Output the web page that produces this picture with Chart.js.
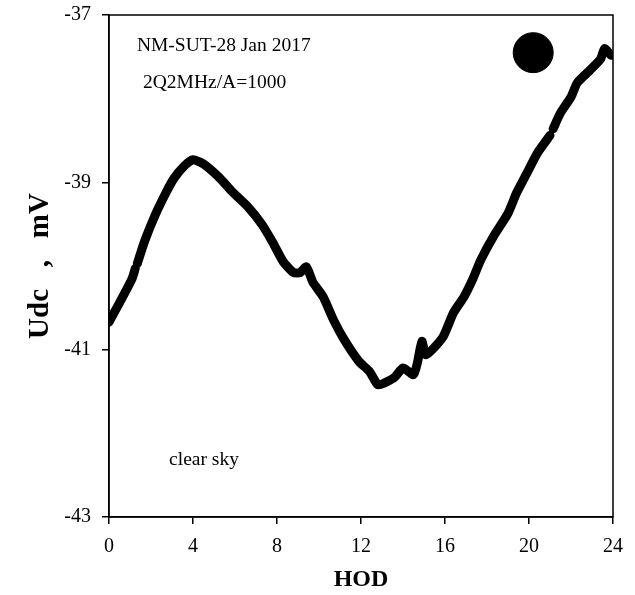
<!DOCTYPE html>
<html lang="en">
<head>
<meta charset="UTF-8">
<title>Udc HOD</title>
<script src="https://cdn.jsdelivr.net/npm/chart.js"></script>
<style>
  html, body { margin: 0; padding: 0; background: #fff; }
  #wrap { width: 635px; height: 595px; }
</style>
</head>
<body>
<div id="wrap">
  <canvas id="myChart" width="635" height="595"></canvas>
</div>
<script>
  // hour of day and measured Udc (mV); null = gap in the record
  const hod = [0, 0.5, 1.1, 1.25, 1.3, 1.35, 1.7, 2.2, 2.7, 3.1, 3.6, 4.0, 4.5, 5.2, 5.9,
    6.6, 7.3, 7.8, 8.3, 8.8, 9.1, 9.4, 9.7, 10.2, 10.7, 11.2, 11.9, 12.4, 12.8, 13.1,
    13.6, 14.0, 14.5, 14.7, 14.9, 15.1, 15.9, 16.4, 16.9, 17.3, 17.7, 18.3, 19.0, 19.4,
    19.9, 20.4, 21.0, 21.1, 21.15, 21.5, 22.0, 22.3, 22.9, 23.4, 23.6, 23.9];
  const udc = [-40.67, -40.44, -40.15, -40.03, null, -39.97, -39.70, -39.39, -39.13, -38.95,
    -38.80, -38.73, -38.78, -38.93, -39.12, -39.29, -39.51, -39.72, -39.95, -40.08, -40.08,
    -40.01, -40.19, -40.37, -40.65, -40.88, -41.14, -41.26, -41.42, -41.40, -41.33, -41.22,
    -41.30, -41.14, -40.90, -41.06, -40.85, -40.56, -40.37, -40.17, -39.93, -39.65, -39.37,
    -39.13, -38.89, -38.65, -38.44, null, -38.36, -38.17, -37.98, -37.81, -37.66, -37.53,
    -37.40, -37.48];

  const xTicks = [0, 4, 8, 12, 16, 20, 24];
  const yTicks = [-43, -41, -39, -37];

  // sun symbol (clear sky), in data units
  const sunX = [20.2];
  const sunY = [-37.45];

  // text notes: [text, hod, udc]
  const notes = [
    ['NM-SUT-28 Jan 2017', 1.33, -37.37],
    ['2Q2MHz/A=1000', 1.62, -37.81],
    ['clear sky', 2.86, -42.32]
  ];

  const serif = '"Liberation Serif", "Times New Roman", serif';

  const boxAndNotes = {
    id: 'boxAndNotes',
    afterDraw(chart) {
      const c = chart.ctx, a = chart.chartArea;
      const xs = chart.scales.x, ys = chart.scales.y;
      c.save();
      c.strokeStyle = '#000';
      c.lineWidth = 1.5;
      c.strokeRect(a.left, a.top, a.right - a.left, a.bottom - a.top);
      c.fillStyle = '#000';
      c.font = '19.5px ' + serif;
      c.textBaseline = 'middle';
      c.textAlign = 'left';
      notes.forEach(n => {
        c.fillText(n[0], xs.getPixelForValue(n[1]), ys.getPixelForValue(n[2]));
      });
      c.restore();
    }
  };

  const ctx = document.getElementById('myChart');

  new Chart(ctx, {
    type: 'line',
    data: {
      datasets: [{
        data: hod.map((h, i) => ({x: h, y: udc[i]})),
        borderColor: '#000',
        borderWidth: 9,
        pointRadius: 0,
        tension: 0.2,
        spanGaps: false,
        borderJoinStyle: 'round',
        borderCapStyle: 'round'
      }, {
        type: 'scatter',
        data: sunX.map((h, i) => ({x: h, y: sunY[i]})),
        backgroundColor: '#000',
        borderColor: '#000',
        pointRadius: 20
      }]
    },
    options: {
      responsive: false,
      animation: false,
      layout: { autoPadding: false, padding: { top: 15, right: 22, left: 0, bottom: 0 } },
      plugins: { legend: { display: false }, tooltip: { enabled: false } },
      scales: {
        x: {
          type: 'linear',
          min: 0,
          max: 24,
          afterBuildTicks: s => { s.ticks = xTicks.map(v => ({value: v})); },
          afterFit: s => { s.height = 78; s.paddingLeft = 0; s.paddingRight = 0; },
          grid: { drawOnChartArea: false, color: '#000', tickLength: 7, lineWidth: 1.5 },
          border: { color: '#000', width: 1.5 },
          ticks: { color: '#000', font: { family: serif, size: 20 }, padding: 11, maxRotation: 0 },
          title: {
            display: true,
            text: 'HOD',
            color: '#000',
            font: { family: serif, size: 24, weight: 'bold' },
            padding: { top: 0, bottom: 1 }
          }
        },
        y: {
          min: -43,
          max: -37,
          afterBuildTicks: s => { s.ticks = yTicks.map(v => ({value: v})); },
          afterFit: s => { s.width = 109; s.paddingTop = 0; s.paddingBottom = 0; },
          grid: { drawOnChartArea: false, color: '#000', tickLength: 7, lineWidth: 1.5 },
          border: { color: '#000', width: 1.5 },
          ticks: { color: '#000', font: { family: serif, size: 20 }, padding: 11 },
          title: {
            display: true,
            text: 'Udc   ,   mV',
            color: '#000',
            font: { family: serif, size: 29, weight: 'bold' },
            padding: { top: 23, bottom: 0 }
          }
        }
      }
    },
    plugins: [boxAndNotes]
  });
</script>
</body>
</html>
